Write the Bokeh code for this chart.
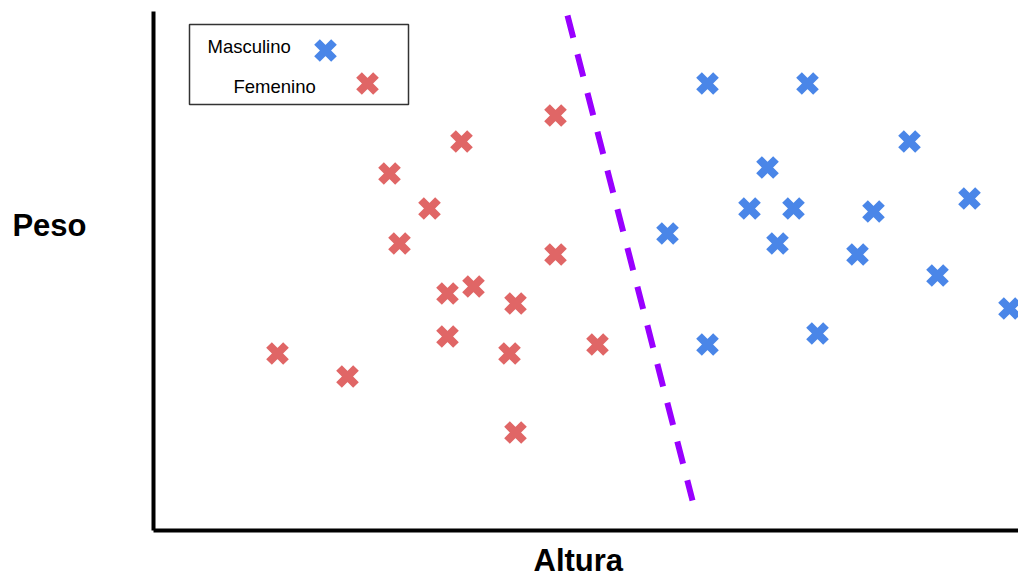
from bokeh.plotting import figure
from bokeh.models import Range1d, Title
from bokeh.embed import file_html
from bokeh.resources import INLINE
from bokeh.core.properties import value

# ---- data (Altura in cm, Peso in kg) ----
masc_altura = [177.7, 182.7, 187.8, 180.7, 179.8, 182.0, 186.0, 190.8,
               175.7, 181.2, 185.2, 189.2, 192.8, 183.2, 177.7]
masc_peso = [84.7, 84.7, 78.9, 76.3, 72.2, 72.2, 71.9, 73.2,
             69.7, 68.7, 67.6, 65.5, 62.2, 59.7, 58.6]

fem_altura = [170.1, 165.4, 161.8, 163.8, 162.3, 170.1, 164.7, 166.0,
              168.1, 164.7, 167.8, 172.2, 156.2, 159.7, 168.1]
fem_peso = [81.5, 78.9, 75.7, 72.2, 68.7, 67.6, 63.7, 64.4,
            62.7, 59.4, 57.7, 58.6, 57.7, 55.4, 49.8]

frontera_altura = [170.7, 176.95]
frontera_peso = [91.5, 43.0]

labels = ["Masculino", "Femenino"]
x_label = "Altura"
y_label = "Peso"

BLUE = "#4a86e8"
RED = "#e06666"
PURPLE = "#9900ff"
FONT = "Liberation Sans"

p = figure(width=1018, height=584, output_backend="svg", toolbar_location=None,
           x_range=Range1d(150, 193.25), y_range=Range1d(40, 91.9),
           min_border_left=153, min_border_right=0, min_border_top=11,
           min_border_bottom=54)
p.background_fill_color = "white"
p.border_fill_color = "white"
p.outline_line_color = None
p.grid.visible = False

for ax in (p.xaxis[0], p.yaxis[0]):
    ax.axis_line_width = 4
    ax.axis_line_color = "black"
    ax.major_tick_line_color = None
    ax.minor_tick_line_color = None
    ax.major_label_text_font_size = "0px"
    ax.major_label_standoff = 0
    ax.major_tick_out = 0
    ax.major_tick_in = 0

# y label: horizontal, raised above the frame centre by a blank second line
yax = p.yaxis[0]
yax.axis_label = y_label + "\n "
yax.axis_label_orientation = "horizontal"
yax.axis_label_text_font = FONT
yax.axis_label_text_font_size = "31px"
yax.axis_label_text_font_style = "bold"
yax.axis_label_text_color = "black"
yax.axis_label_text_line_height = 2.6
yax.axis_label_standoff = 63

p.add_layout(Title(text=x_label, align="left", offset=380, standoff=13,
                   text_font=FONT, text_font_size="31px",
                   text_font_style="bold", text_color="black"), "below")

# decision boundary
p.line(frontera_altura, frontera_peso, line_color=PURPLE, line_width=6,
       line_dash="23 17")

MS = 24
MW = 8
p.scatter(masc_altura, masc_peso, marker="x", size=MS, line_width=MW,
          line_color=BLUE)
p.scatter(fem_altura, fem_peso, marker="x", size=MS, line_width=MW,
          line_color=RED)

# legend box (drawn manually: text then marker)
p.quad(left=[151.8], right=[162.75], bottom=[82.6], top=[90.6],
       fill_color="white", line_color="#333333", line_width=1.5)
p.text(x=[152.7, 154.0], y=[88.4, 84.4], text=labels,
       text_font=value(FONT), text_font_size="18.5px", text_color="black",
       text_baseline="alphabetic", text_align="left")
p.scatter([158.6], [88.0], marker="x", size=MS, line_width=MW, line_color=BLUE)
p.scatter([160.7], [84.7], marker="x", size=MS, line_width=MW, line_color=RED)

open("out.html", "w").write(file_html(p, INLINE))
